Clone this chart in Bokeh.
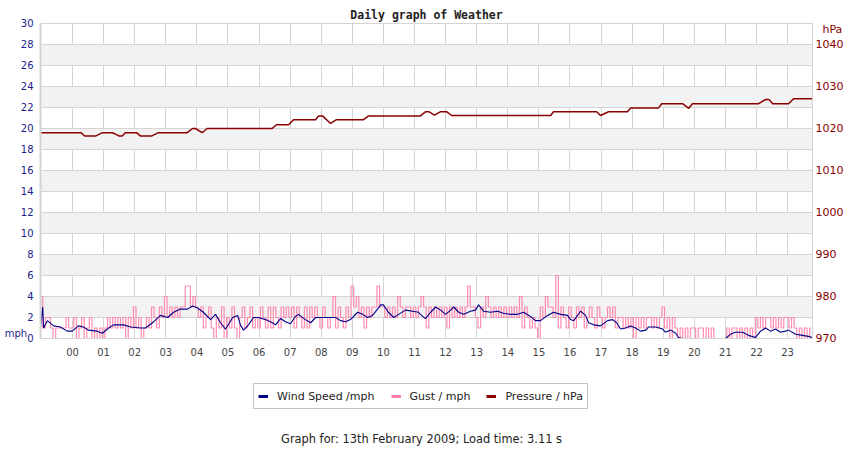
from bokeh.plotting import figure
from bokeh.layouts import column
from bokeh.models import Range1d, LinearAxis, FixedTicker, Legend, LegendItem, Label
from bokeh.embed import file_html
from bokeh.resources import INLINE

# x axis is hours of the day, -1 = 23:00 the evening before
hour_ticks = list(range(0, 24))
hour_labels = ["%02d" % h for h in hour_ticks]
mph_ticks = list(range(0, 31, 2))
hpa_ticks = list(range(970, 1041, 10))

# wind speed (mph)
wind_hours = [-1.03, -0.96, -0.93, -0.81, -0.61, -0.39, -0.17, -0.01, 0.19, 0.35,
              0.51, 0.79, 0.96, 1.16, 1.32, 1.64, 1.87, 2.19, 2.35, 2.61,
              2.83, 3.06, 3.25, 3.47, 3.70, 3.86, 4.02, 4.21, 4.44, 4.60,
              4.76, 4.92, 5.05, 5.15, 5.31, 5.40, 5.50, 5.66, 5.82, 5.98,
              6.21, 6.43, 6.53, 6.69, 6.85, 7.01, 7.17, 7.27, 7.49, 7.66,
              7.82, 8.04, 8.23, 8.46, 8.62, 8.78, 8.94, 9.17, 9.33, 9.49,
              9.65, 9.81, 9.91, 10.00, 10.16, 10.33, 10.49, 10.71, 10.94, 11.13,
              11.19, 11.35, 11.52, 11.68, 11.84, 12.00, 12.16, 12.26, 12.42, 12.58,
              12.80, 12.96, 13.06, 13.22, 13.45, 13.67, 13.86, 14.09, 14.31, 14.51,
              14.73, 14.89, 15.05, 15.28, 15.47, 15.70, 15.92, 16.02, 16.12, 16.34,
              16.50, 16.60, 16.76, 16.98, 17.21, 17.37, 17.50, 17.63, 17.79, 17.95,
              18.11, 18.27, 18.44, 18.53, 18.76, 18.98, 19.07, 19.24, 19.40, 19.49,
              19.62, 21.00, 21.16, 21.32, 21.55, 21.74, 21.97, 22.13, 22.29, 22.45,
              22.61, 22.77, 22.93, 23.03, 23.26, 23.48, 23.67, 23.80]
wind_mph = [1.0, 3.0, 1.0, 1.7, 1.2, 1.1, 0.7, 0.7, 1.2, 1.1,
            0.8, 0.7, 0.5, 1.0, 1.3, 1.3, 1.1, 1.0, 1.0, 1.6,
            2.2, 2.0, 2.5, 2.8, 2.8, 3.1, 2.9, 2.5, 1.8, 2.3,
            1.5, 0.9, 1.5, 2.0, 2.2, 1.3, 0.8, 1.3, 2.0, 2.0,
            1.8, 1.5, 1.3, 1.9, 1.6, 1.4, 2.1, 2.3, 1.8, 1.5,
            2.0, 2.0, 2.0, 2.0, 1.7, 1.6, 1.8, 2.5, 2.3, 2.0,
            2.2, 2.8, 3.2, 3.2, 2.5, 2.0, 2.3, 2.7, 2.6, 2.5,
            2.3, 1.9, 2.5, 3.0, 2.7, 2.3, 2.7, 3.0, 2.5, 2.3,
            2.6, 2.7, 3.2, 2.6, 2.5, 2.6, 2.4, 2.3, 2.3, 2.5,
            2.1, 1.7, 1.7, 2.2, 2.5, 2.3, 2.2, 1.8, 1.7, 2.6,
            2.2, 1.5, 1.3, 1.2, 1.7, 1.8, 1.5, 0.9, 1.0, 1.2,
            1.0, 0.7, 0.8, 1.1, 1.1, 0.9, 0.6, 0.8, 0.5, 0.1,
            0.0, 0.0, 0.4, 0.6, 0.6, 0.3, 0.1, 0.7, 1.0, 0.7,
            0.9, 0.6, 0.7, 0.8, 0.4, 0.3, 0.2, 0.1]

# gusts (mph), 5 minute readings, one row per hour from 23:00
gust_mph = [4, 1, 2, 2, 1, 0, 1, 1, 1, 1, 2, 1,
            1, 2, 0, 1, 2, 0, 1, 2, 0, 1, 0, 1,
            0, 1, 2, 1, 2, 1, 2, 1, 2, 0, 2, 1,
            3, 1, 2, 0, 1, 2, 1, 3, 2, 1, 3, 2,
            4, 2, 3, 2, 3, 2, 3, 3, 5, 5, 3, 4,
            3, 2, 3, 1, 2, 3, 1, 0, 2, 1, 3, 0,
            2, 1, 3, 1, 0, 2, 3, 1, 2, 3, 1, 2,
            1, 3, 2, 1, 3, 1, 3, 2, 1, 3, 2, 3,
            2, 3, 1, 3, 2, 1, 3, 1, 3, 2, 3, 2,
            1, 3, 2, 1, 2, 4, 1, 3, 2, 1, 3, 2,
            5, 3, 4, 2, 3, 1, 3, 2, 3, 3, 5, 3,
            3, 2, 3, 2, 3, 2, 4, 3, 2, 3, 3, 2,
            3, 2, 3, 4, 3, 1, 3, 2, 3, 2, 3, 2,
            3, 1, 3, 2, 3, 2, 3, 2, 3, 5, 3, 3,
            2, 1, 3, 2, 4, 3, 2, 3, 2, 3, 2, 3,
            2, 3, 2, 3, 2, 4, 1, 3, 2, 1, 2, 1,
            0, 3, 2, 4, 3, 3, 2, 6, 1, 3, 2, 1,
            3, 2, 1, 3, 2, 3, 1, 2, 3, 2, 1, 3,
            2, 1, 2, 3, 2, 3, 1, 2, 2, 1, 2, 1,
            2, 0, 2, 1, 2, 1, 2, 2, 1, 2, 1, 2,
            3, 1, 2, 0, 2, 1, 0, 1, 0, 1, 0, 1,
            1, 0, 1, 1, 0, 1, 0, 1, 0, 0, 0, 0,
            0, 1, 0, 1, 1, 0, 1, 0, 1, 0, 1, 0,
            2, 1, 2, 1, 2, 2, 1, 2, 1, 2, 1, 2,
            2, 1, 2, 1, 0, 1, 0, 1, 0, 1]
gust_hours = [-1 + i / 12 for i in range(len(gust_mph))]

# pressure (hPa)
pressure_hours = [-1.03, 0.28, 0.39, 0.74, 0.96, 1.28, 1.40, 1.50, 1.60, 1.70,
                  2.06, 2.19, 2.54, 2.76, 3.69, 3.86, 3.95, 4.17, 4.33, 6.42,
                  6.56, 6.95, 7.11, 7.82, 7.91, 8.04, 8.30, 8.49, 9.36, 9.52,
                  11.19, 11.36, 11.46, 11.64, 11.84, 12.03, 12.19, 15.38, 15.47, 16.86,
                  16.98, 17.24, 17.85, 17.95, 18.85, 18.95, 19.62, 19.82, 19.94, 22.07,
                  22.29, 22.40, 22.52, 23.03, 23.19, 23.80]
pressure_hpa = [1019.0, 1019.0, 1018.2, 1018.2, 1019.0, 1019.0, 1018.6, 1018.2, 1018.2, 1019.0,
                1019.0, 1018.2, 1018.2, 1019.0, 1019.0, 1020.0, 1020.0, 1019.0, 1020.0, 1020.0,
                1020.9, 1020.9, 1022.1, 1022.1, 1023.0, 1023.0, 1021.2, 1022.1, 1022.1, 1023.0,
                1023.0, 1024.0, 1024.0, 1023.2, 1024.0, 1024.0, 1023.1, 1023.1, 1024.0, 1024.0,
                1023.1, 1024.0, 1024.0, 1024.9, 1024.9, 1025.9, 1025.9, 1024.8, 1025.9, 1025.9,
                1026.9, 1026.9, 1025.9, 1025.9, 1027.1, 1027.1]

NAVY = "#00008b"
PINK = "#ff7fa8"
DARKRED = "#8b0000"
GRID = "#d4d4d4"
NBSP = "\u00a0"

# ---- main chart ----
p = figure(width=850, height=365, x_range=Range1d(-1.03, 23.8), y_range=Range1d(0, 30),
           title="Daily graph of Weather", output_backend="svg", toolbar_location=None,
           min_border_left=40, min_border_right=38, min_border_top=23, min_border_bottom=27)
p.extra_y_ranges = {"hpa": Range1d(970, 1045)}
p.outline_line_color = GRID
p.background_fill_color = "white"

p.title.align = "center"
p.title.text_font = "DejaVu Sans Mono"
p.title.text_font_style = "bold"
p.title.text_font_size = "11.5px"
p.title.text_color = "#222222"
p.title.standoff = 3

# grids
p.xgrid.ticker = FixedTicker(ticks=hour_ticks)
p.xgrid.grid_line_color = GRID
p.ygrid.ticker = FixedTicker(ticks=mph_ticks)
p.ygrid.grid_line_color = GRID
p.ygrid.band_fill_color = "#f2f2f2"
p.ygrid.band_fill_alpha = 1.0

# bottom axis
p.xaxis.ticker = FixedTicker(ticks=hour_ticks)
p.xaxis.major_label_overrides = dict(zip(hour_ticks, hour_labels))
p.xaxis.axis_line_color = GRID
p.xaxis.major_tick_line_color = None
p.xaxis.major_tick_out = 0
p.xaxis.minor_tick_line_color = None
p.xaxis.major_label_standoff = 9
p.xaxis.major_label_text_font = "DejaVu Sans"
p.xaxis.major_label_text_font_size = "10px"
p.xaxis.major_label_text_color = "#444444"

# left axis, mph (unit name sits just above the 0)
p.yaxis.ticker = FixedTicker(ticks=mph_ticks + [0.48])
p.yaxis.major_label_overrides = {0.48: "mph" + NBSP * 2}
p.yaxis.axis_line_color = GRID
p.yaxis.axis_line_width = 2
p.yaxis.major_tick_line_color = None
p.yaxis.major_tick_out = 0
p.yaxis.minor_tick_line_color = None
p.yaxis.major_label_standoff = 7
p.yaxis.major_label_text_font = "DejaVu Sans"
p.yaxis.major_label_text_font_size = "10px"
p.yaxis.major_label_text_color = "#1c1c8a"

# right axis, hPa (unit name above the top tick)
right = LinearAxis(y_range_name="hpa", ticker=FixedTicker(ticks=hpa_ticks + [1043.6]))
right.major_label_overrides = {1043.6: NBSP * 2 + "hPa"}
right.axis_line_color = GRID
right.major_tick_line_color = None
right.major_tick_out = 0
right.minor_tick_line_color = None
right.major_label_standoff = 3
right.major_label_text_font = "DejaVu Sans"
right.major_label_text_font_size = "11px"
right.major_label_text_color = DARKRED
p.add_layout(right, "right")

p.step(gust_hours, gust_mph, mode="center", color=PINK, line_width=1.2, line_alpha=0.9)
p.line(wind_hours, wind_mph, color=NAVY, line_width=1.1)
p.line(pressure_hours, pressure_hpa, y_range_name="hpa", color=DARKRED, line_width=1.5)

# ---- legend and footer strip ----
# the series are drawn again here only to give the legend its swatches;
# the x range keeps them out of view
foot = figure(width=850, height=85, x_range=Range1d(100, 950), y_range=Range1d(0, 85),
              x_axis_location=None, y_axis_location=None, title=None,
              output_backend="svg", toolbar_location=None, min_border=0)
foot.grid.visible = False
foot.outline_line_color = None
lw = foot.line(wind_hours, wind_mph, color=NAVY, line_width=3)
lg = foot.line(gust_hours, gust_mph, color=PINK, line_width=3)
lp = foot.line(pressure_hours, pressure_hpa, color=DARKRED, line_width=3)

# the strip's frame lines up with the chart's frame (x from 40 px)
legend = Legend(items=[LegendItem(label="Wind Speed /mph", renderers=[lw]),
                       LegendItem(label="Gust / mph", renderers=[lg]),
                       LegendItem(label="Pressure / hPa", renderers=[lp])],
                location=(213, 41), orientation="horizontal",
                glyph_width=10, glyph_height=16, label_height=16, label_standoff=9,
                spacing=16, padding=4, margin=0,
                border_line_color="#888888", border_line_width=1,
                label_text_font="DejaVu Sans", label_text_font_size="11px",
                label_text_color="#222222")
foot.add_layout(legend, "center")

foot.add_layout(Label(x=381, y=12, x_units="screen", y_units="screen",
                      text="Graph for: 13th February 2009; Load time: 3.11 s",
                      text_align="center", text_baseline="middle", text_font="DejaVu Sans",
                      text_font_size="11.4px", text_color="#222222"))

open("out.html", "w").write(file_html(column(p, foot), INLINE))
